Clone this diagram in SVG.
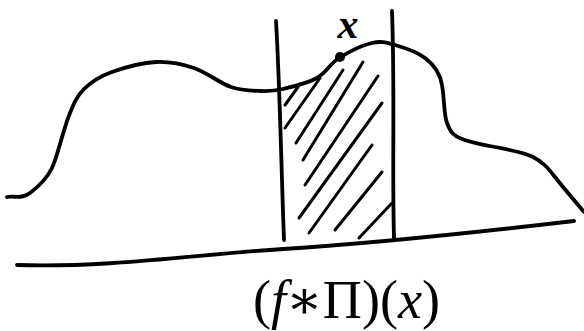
<svg xmlns="http://www.w3.org/2000/svg" width="584" height="331" viewBox="0 0 584 331">
<style>
.ink{fill:none;stroke:#000;stroke-width:3.8;stroke-linecap:round;stroke-linejoin:round}
.hatch{fill:none;stroke:#000;stroke-width:3;stroke-linecap:round}
.lbl{font-family:"Liberation Serif","DejaVu Serif",serif;fill:#000}
</style>
<rect width="584" height="331" fill="#fff"/>
<g id="curve">
<path class="ink" d="M7,197 C14.7,195.7 21.8,199.2 30,193 C38.2,186.8 47,178 52,168 C58,155 63,130 70,113 C74,103 77,96 84,89 C92,81 100.3,76.2 112,72 C123.7,67.8 142.3,62.7 156,62 C169.7,61.3 181.5,63.8 194,68 C206.5,72.2 219.8,83.2 231,87 C242.2,90.8 252.3,90.7 261,91 C269.7,91.3 273.7,91.2 283,89 C292.3,86.8 307.7,83.2 317,78 C326.3,72.8 329.8,63.8 339,58 C348.2,52.2 362.7,45.2 372,43 C381.3,40.8 386.2,42.5 395,45 C403.8,47.5 417.3,52.2 425,58 C432.7,63.8 440,72 442,85 C444.7,100 443.5,113.5 447,123 C450.5,132.5 454,136 462,139 C470,142 483.2,145 495,147 C506.8,149.5 523,152 533,157 C543,162 548,168 555,177 C563.5,188 574.3,200.3 584,212"/>
</g>
<g id="axis">
<path class="ink" d="M17,265 C110,268 200,254 283,249 C380,243 480,232 574,221"/>
</g>
<g id="window">
<path class="ink" d="M276,21 C280,90 281,160 284,240"/>
<path class="ink" d="M392,11 C395,90 392,170 394,238"/>
</g>
<g id="hatching">
<path class="hatch" d="M285,105 L298,87"/>
<path class="hatch" d="M285,128 L320,78"/>
<path class="hatch" d="M296,143 L343,70"/>
<path class="hatch" d="M303,160 L363,62"/>
<path class="hatch" d="M305,185 L378,76"/>
<path class="hatch" d="M299,218 L382,103"/>
<path class="hatch" d="M309,233 L372,145"/>
<path class="hatch" d="M335,230 L382,172"/>
<path class="hatch" d="M359,238 L392,203"/>
</g>
<g id="point">
<circle cx="340" cy="57" r="5" fill="#000"/>
<text class="lbl" x="348" y="38" font-size="42" font-style="italic" font-weight="bold" text-anchor="middle">x</text>
</g>
<g id="label">
<text class="lbl" x="253" y="318" font-size="54" textLength="187" lengthAdjust="spacingAndGlyphs">(<tspan font-style="italic">f</tspan>∗Π)(<tspan font-style="italic">x</tspan>)</text>
</g>
</svg>
